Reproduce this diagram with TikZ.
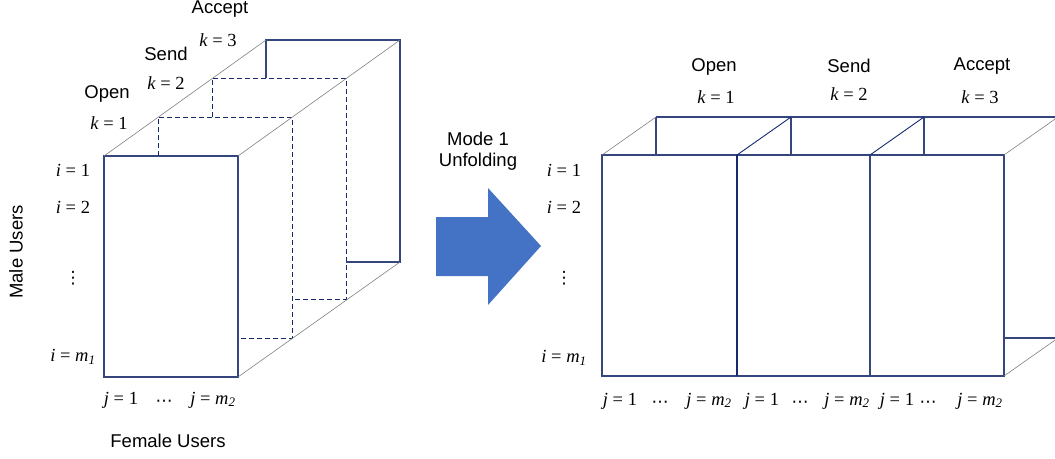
\documentclass[tikz,border=0pt]{standalone}
\usepackage{fontspec}
\setmainfont{Liberation Sans}
\newfontfamily\timesf{Liberation Serif}
\newfontfamily\dotsf{DejaVu Sans}
\usepackage{xcolor}
\usepackage{tikz}
\usetikzlibrary{positioning}
\definecolor{slicenavy}{RGB}{52,70,124}
\definecolor{hidnavy}{RGB}{24,42,110}
\definecolor{arrowblue}{RGB}{68,114,196}
\newcommand{\mlab}[1]{{\timesf #1}}
\newcommand{\iv}{\textit{i}}
\newcommand{\jv}{\textit{j}}
\newcommand{\kv}{\textit{k}}
\newcommand{\mv}[1]{\textit{m}\textsubscript{\textit{#1}}}

\begin{document}
\begin{tikzpicture}[x=1pt,y=-1pt,
  every node/.style={font=\fontsize{18.5}{22}\selectfont,inner sep=0pt},
  face/.style={draw=slicenavy,line width=1.1pt},
  hid/.style={draw=hidnavy,line width=1pt,dash pattern=on 5pt off 3pt},
  depth/.style={draw=gray,line width=0.6pt},
  divider/.style={draw=hidnavy,line width=1.4pt},
  vdot/.style={font=\dotsf\fontsize{17}{20}\selectfont},
  hdot/.style={font=\dotsf\fontsize{17}{20}\selectfont}]
  \useasboundingbox (0,0) rectangle (1055,458);
  \clip (0,0) rectangle (1055,458);

  % tensor (left)
  \draw[face] (104,156) rectangle (238,377);
  \draw[hid] (158,156) -- (158,117) -- (292,117) -- (292,338) -- (238,338);
  \draw[hid] (212,117) -- (212,78) -- (346,78) -- (346,299) -- (292,299);
  \draw[face] (266,78) -- (266,40) -- (400,40) -- (400,262) -- (346,262);
  \draw[depth] (104,156) -- (266,40);
  \draw[depth] (238,156) -- (400,40);
  \draw[depth] (238,377) -- (400,262);

  \node (open) at (107,94) {Open};
  \node (k1) at (109,123) {\mlab{\kv{} = 1}};
  \node (send) at (166,54) {Send};
  \node (k2) at (166,83) {\mlab{\kv{} = 2}};
  \node (accept) at (220,9) {Accept};
  \node (k3) at (218,40) {\mlab{\kv{} = 3}};

  \node (i1) at (73,170) {\mlab{\iv{} = 1}};
  \node (i2) at (73,207) {\mlab{\iv{} = 2}};
  \node[vdot] (idots) at (73,278) {⋮};
  \node (im) at (73,357) {\mlab{\iv{} = \mv{1}}};
  \node (j1) at (121,400) {\mlab{\jv{} = 1}};
  \node[hdot] (jdots) at (164,403) {⋯};
  \node (jm) at (213,400) {\mlab{\jv{} = \mv{2}}};

  \node[rotate=90] (male) at (16,252) {Male Users};
  \node (female) at (168,441) {Female Users};

  % unfolding arrow
  \fill[arrowblue] (436,217) -- (488,217) -- (488,188) -- (541,246)
    -- (488,305) -- (488,276) -- (436,276) -- cycle;
  \node (mode) at (478,139) {Mode 1};
  \node (unf) at (478,162) {Unfolding};

  % unfolded matrix (right)
  \draw[face] (602,155) rectangle (1004,376);
  \draw[divider] (737,155) -- (737,376);
  \draw[face] (870,155) -- (870,376);
  \draw[face] (656,117) -- (1058,117);
  \foreach \x in {656,791,924}
    \draw[face] (\x,117) -- (\x,155);
  \draw[depth] (602,155) -- (656,117);
  \draw[depth] (1004,155) -- (1058,117);
  \draw[hidnavy,line width=0.9pt] (737,155) -- (791,117);
  \draw[hidnavy,line width=0.9pt] (870,155) -- (924,117);
  \draw[face] (1004,338) -- (1058,338);
  \draw[depth] (1004,376) -- (1058,338);

  \node (ropen) at (714,67) {Open};
  \node (rk1) at (716,97) {\mlab{\kv{} = 1}};
  \node (rsend) at (849,66) {Send};
  \node (rk2) at (849,94) {\mlab{\kv{} = 2}};
  \node (raccept) at (982,66) {Accept};
  \node (rk3) at (980,97) {\mlab{\kv{} = 3}};

  \node (ri1) at (564,170) {\mlab{\iv{} = 1}};
  \node (ri2) at (564,207) {\mlab{\iv{} = 2}};
  \node[vdot] (ridots) at (564,278) {⋮};
  \node (rim) at (564,358) {\mlab{\iv{} = \mv{1}}};

  \foreach \a/\b/\c [count=\n] in {620/660/709,762/800/847,897/928/980} {
    \node (rj1-\n) at (\a,401) {\mlab{\jv{} = 1}};
    \node[hdot] (rjd-\n) at (\b,404) {⋯};
    \node (rjm-\n) at (\c,401) {\mlab{\jv{} = \mv{2}}};
  }
\end{tikzpicture}
\end{document}
